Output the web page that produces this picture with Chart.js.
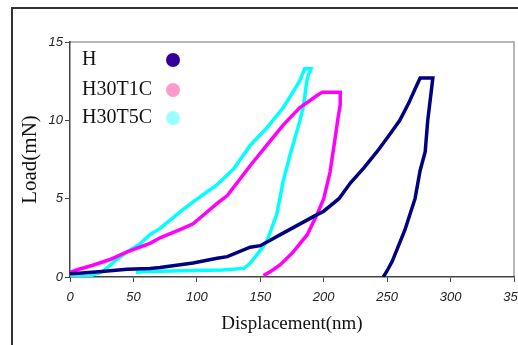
<!DOCTYPE html>
<html>
<head>
<meta charset="utf-8">
<script src="https://cdn.jsdelivr.net/npm/chart.js@4/dist/chart.umd.min.js"></script>
<style>
  html, body { margin: 0; padding: 0; background: #fff; }
  #wrap { width: 518px; height: 345px; position: relative; }
</style>
</head>
<body>
<div id="wrap"><canvas id="chart" width="518" height="345"></canvas></div>
<script>
// Displacement (nm) / load (mN): loading then unloading
var H_X = [0, 10, 25, 45, 63, 71, 97, 116, 124, 142, 150, 168, 194, 200, 212, 221, 232, 242, 252, 260, 267, 272, 276, 286,
           285, 282, 280, 276, 272, 268, 264, 259, 254, 250, 247];
var H_Y = [0.2, 0.25, 0.35, 0.5, 0.55, 0.6, 0.9, 1.2, 1.3, 1.9, 2.0, 2.8, 3.95, 4.2, 5.0, 6.0, 7.0, 8.0, 9.1, 10.0, 11.1, 12.0, 12.7, 12.7,
           12.0, 10.0, 8.0, 6.8, 5.0, 4.0, 3.0, 2.0, 1.0, 0.4, 0];

var T1C_X = [0, 5, 18, 31, 45, 63, 71, 89, 97, 116, 124, 142, 155, 168, 181, 195, 199, 213,
             213, 211, 209, 205, 200, 194.5, 187, 176, 166, 159, 152.5];
var T1C_Y = [0.3, 0.45, 0.75, 1.1, 1.6, 2.15, 2.5, 3.1, 3.4, 4.7, 5.2, 7.1, 8.4, 9.7, 10.8, 11.6, 11.8, 11.8,
             11.0, 10.0, 8.85, 6.7, 5.0, 3.95, 2.7, 1.6, 0.8, 0.4, 0.1];

var T5C_X = [0, 15, 26, 35, 45, 55, 63, 71, 89, 97, 116, 129, 142, 155, 168, 181, 185, 190,
             188, 186.7, 184, 181, 176, 173.5, 168, 163, 155, 150, 142, 137, 120, 90, 60, 52];
var T5C_Y = [0, 0.05, 0.35, 1.0, 1.6, 2.1, 2.7, 3.1, 4.3, 4.8, 5.9, 6.9, 8.4, 9.5, 10.8, 12.5, 13.3, 13.3,
             12.9, 12.5, 10.9, 9.9, 8.5, 7.8, 6.1, 4.0, 2.25, 1.7, 0.87, 0.55, 0.45, 0.4, 0.35, 0.3];

var SERIES = ['H', 'H30T1C', 'H30T5C'];
var LINE_COLORS = ['#000080', '#ff00ff', '#00ffff'];
var LEGEND_COLORS = ['#330099', '#ff99cc', '#99ffff'];

var X_TICKS = [0, 50, 100, 150, 200, 250, 300, 350];
var Y_TICKS = [0, 5, 10, 15];

function pts(xs, ys) {
  return xs.map(function (x, i) { return { x: x, y: ys[i] }; });
}

// outer frame + plot box (top/right gray edges)
var framePlugin = {
  id: 'frame',
  beforeDraw: function (chart) {
    var ctx = chart.ctx;
    ctx.save();
    ctx.fillStyle = '#fff';
    ctx.fillRect(0, 0, chart.width, chart.height);
    ctx.strokeStyle = '#333';
    ctx.lineWidth = 2;
    ctx.strokeRect(12, 8, 620, 420);
    var a = chart.chartArea;
    ctx.strokeStyle = '#a0a0a0';
    ctx.lineWidth = 1.5;
    ctx.beginPath();
    ctx.moveTo(a.left, a.top);
    ctx.lineTo(a.right, a.top);
    ctx.lineTo(a.right, a.bottom);
    ctx.stroke();
    ctx.restore();
  }
};

// legend: name on the left, dot on the right
var legendPlugin = {
  id: 'dotLegend',
  afterDraw: function (chart) {
    var ctx = chart.ctx;
    var rows = [60, 90, 118];
    ctx.save();
    ctx.font = '20px "Liberation Serif", "Times New Roman", serif';
    ctx.textBaseline = 'middle';
    ctx.textAlign = 'left';
    SERIES.forEach(function (name, i) {
      ctx.fillStyle = '#111';
      ctx.fillText(name, 82, rows[i]);
      ctx.fillStyle = LEGEND_COLORS[i];
      ctx.beginPath();
      ctx.arc(173, rows[i], 7, 0, Math.PI * 2);
      ctx.fill();
    });
    ctx.restore();
  }
};

var tickFont = { family: '"Liberation Sans", Arial, sans-serif', style: 'italic', size: 13 };

new Chart(document.getElementById('chart'), {
  type: 'scatter',
  data: {
    datasets: [
      { label: SERIES[0], data: pts(H_X, H_Y) },
      { label: SERIES[1], data: pts(T1C_X, T1C_Y) },
      { label: SERIES[2], data: pts(T5C_X, T5C_Y) }
    ].map(function (d, i) {
      d.showLine = true;
      d.borderColor = LINE_COLORS[i];
      d.backgroundColor = LINE_COLORS[i];
      d.borderWidth = 3.5;
      d.pointRadius = 0;
      d.tension = 0;
      return d;
    })
  },
  options: {
    responsive: false,
    animation: false,
    layout: { padding: { left: 12, right: 4, top: 42, bottom: 0 } },
    plugins: { legend: { display: false }, tooltip: { enabled: false } },
    scales: {
      x: {
        type: 'linear',
        min: 0, max: 350,
        afterFit: function (s) { s.height = 68; s.paddingLeft = 0; s.paddingRight = 0; },
        afterBuildTicks: function (s) { s.ticks = X_TICKS.map(function (v) { return { value: v }; }); },
        grid: { drawOnChartArea: false, drawTicks: true, tickLength: 5, color: '#444' },
        border: { color: '#444', width: 1.5 },
        ticks: { font: tickFont, color: '#222', padding: 8, maxRotation: 0 },
        title: {
          display: true, text: 'Displacement(nm)', color: '#111',
          font: { family: '"Liberation Serif", "Times New Roman", serif', size: 19 },
          padding: { top: 0, bottom: 10 }
        }
      },
      y: {
        type: 'linear',
        min: 0, max: 15,
        afterFit: function (s) { s.width = 58; s.paddingTop = 0; s.paddingBottom = 0; },
        afterBuildTicks: function (s) { s.ticks = Y_TICKS.map(function (v) { return { value: v }; }); },
        grid: { drawOnChartArea: false, drawTicks: true, tickLength: 5, color: '#444' },
        border: { color: '#444', width: 1.5 },
        ticks: { font: tickFont, color: '#222', padding: 2 },
        title: {
          display: true, text: 'Load(mN)', color: '#111',
          font: { family: '"Liberation Serif", "Times New Roman", serif', size: 21 },
          padding: { top: 6, bottom: 0 }
        }
      }
    }
  },
  plugins: [framePlugin, legendPlugin]
});
</script>
</body>
</html>
